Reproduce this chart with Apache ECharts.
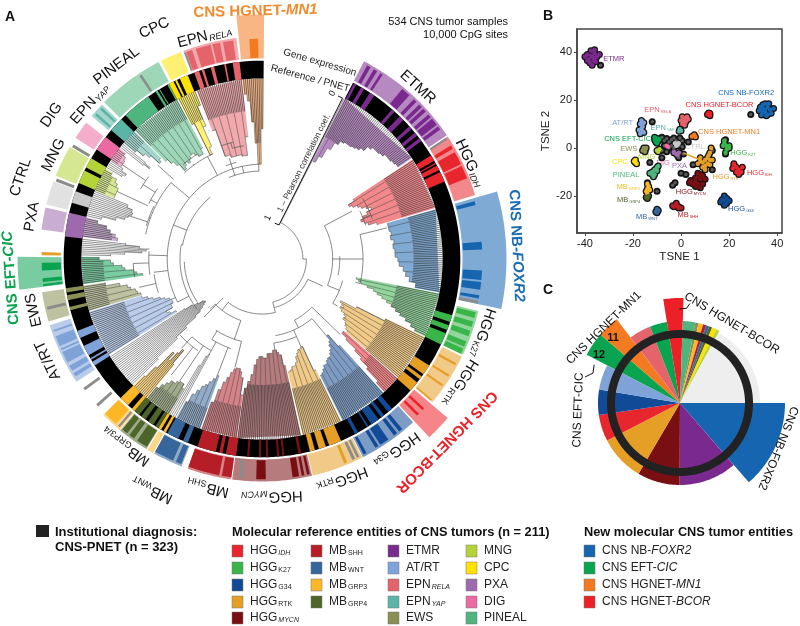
<!DOCTYPE html>
<html>
<head>
<meta charset="utf-8">
<style>html,body{margin:0;padding:0;background:#fff}#main{width:800px;height:626px}</style>
<script src="https://cdn.jsdelivr.net/npm/echarts@6/dist/echarts.min.js"></script>
</head>
<body>
<div id="main"></div>
<script>
// entity colours
var colors = {
    IDH: '#e8262d', K27: '#3ab54a', G34: '#114a96', RTK: '#e59f27', MYCN: '#7a0f13',
    SHH: '#b51e26', WNT: '#36669b', GRP3: '#fbb726', GRP4: '#4e6529',
    ETMR: '#7a2a8e', ATRT: '#7fa3d8', RELA: '#e5636a', YAP: '#5bb5a6', EWS: '#8b8f53',
    MNG: '#b4d339', CPC: '#ffe100', PXA: '#9e6aad', DIG: '#ec6aa2', PINEAL: '#4fb57e',
    FOXR2: '#1565b0', CIC: '#0aa350', MN1: '#f37a20', BCOR: '#ed2028',
    CTRL: '#c9c9c9', grey: '#8c8c8c', none: '#ffffff'
};

// ---- panel A: clusters of the tree (angle in degrees, depth = 1 - Pearson r)
var treeNames = ['ETMR', 'IDH', 'FOXR2', 'K27', 'RTK', 'BCOR', 'G34', 'RTK', 'MYCN', 'SHH', 'WNT', 'none', 'GRP4', 'GRP3', 'none', 'ATRT', 'EWS', 'CIC', 'none', 'PXA', 'none', 'MNG', 'none', 'DIG', 'none', 'YAP', 'PINEAL', 'CPC', 'RELA', 'MN1'];
var treeFrom = [27.3, 56.6, 74, 101, 115.7, 131.3, 137.8, 154, 167.5, 188, 200, 208.5, 211, 219.7, 225.7, 238, 253.3, 262, 271, 277, 283.6, 292.3, 300.2, 303.2, 308, 310, 315.3, 332.3, 338.8, 353.8];
var treeTo = [56, 73.6, 100.7, 115.4, 131, 137.3, 153.5, 167, 187.8, 199.5, 208.3, 210.7, 219.5, 225.5, 237.7, 253, 261.5, 270.7, 276.8, 283.3, 292, 300, 303, 307.8, 310, 315, 332, 338.3, 353.6, 360.5];
// leaves stop at this depth, the rest of the cluster is solid
var treeCore = [0.3, 0.24, 0.2, 0.3, 0.3, 0.25, 0.25, 0.33, 0.38, 0.22, 0.15, 1, 0.12, 0.42, 1, 0.25, 0.15, 0.15, 1, 0.2, 1, 0.07, 1, 0.05, 1, 0.1, 0.15, 0.2, 0.22, 0.45];
// tip depth of each cluster, in equal angle steps
var treeTips = [
    [0.49, 0.44, 0.36, 0.3, 0.27, 0.26, 0.26, 0.25, 0.24, 0.22, 0.18, 0.16, 0.16, 0.15, 0.13, 0.13, 0.12, 0.11],
    [0.5, 0.55, 0.53, 0.5, 0.48, 0.45, 0.42, 0.46, 0.5, 0.52, 0.5, 0.48, 0.42],
    [0.35, 0.35, 0.34, 0.35, 0.33, 0.34, 0.33, 0.33, 0.31, 0.3, 0.27, 0.25, 0.22, 0.17],
    [0.59, 0.57, 0.55, 0.5, 0.45, 0.42, 0.38, 0.34, 0.3, 0.26, 0.22, 0.17, 0.12, 0.08],
    [0.3, 0.52, 0.64, 0.62, 0.6, 0.62, 0.6, 0.57, 0.55, 0.56, 0.53, 0.52, 0.5, 0.48],
    [0.5, 0.5, 0.45, 0.35, 0.28, 0.2, 0.08],
    [0.45, 0.56, 0.52, 0.5, 0.47, 0.45, 0.43, 0.43, 0.42, 0.4, 0.4, 0.38, 0.36, 0.35],
    [0.4, 0.59, 0.58, 0.58, 0.56, 0.54, 0.5, 0.48, 0.48, 0.46, 0.45],
    [0.5, 0.58, 0.6, 0.62, 0.62, 0.6, 0.6, 0.6, 0.57, 0.57, 0.58, 0.58, 0.56, 0.52, 0.45, 0.4, 0.35],
    [0.3, 0.42, 0.46, 0.48, 0.48, 0.47, 0.44, 0.4, 0.36, 0.3, 0.2],
    [0.39, 0.36, 0.33, 0.3, 0.28, 0.24, 0.2, 0.13],
    [0.5, 0.48, 0.4],
    [0.2, 0.23, 0.23, 0.22, 0.2, 0.2, 0.17, 0.14, 0.1],
    [0.3, 0.42, 0.38, 0.3, 0.36, 0.2, 0.1],
    [0.25, 0.45, 0.55, 0.65, 0.7, 0.73, 0.75, 0.77, 0.76, 0.72, 0.68, 0.62],
    [0.56, 0.52, 0.5, 0.55, 0.55, 0.57, 0.57, 0.56, 0.53, 0.5, 0.45, 0.42, 0.38],
    [0.38, 0.36, 0.35, 0.32, 0.3, 0.25, 0.15],
    [0.42, 0.38, 0.36, 0.3, 0.28, 0.22, 0.2, 0.12],
    [0.2, 0.3, 0.42, 0.45, 0.4, 0.3],
    [0.24, 0.22, 0.18, 0.15, 0.08],
    [0.1, 0.2, 0.26, 0.28, 0.3, 0.29, 0.25],
    [0.14, 0.14, 0.14, 0.12, 0.1, 0.05],
    [0.12, 0.14, 0.1],
    [0.08, 0.08, 0.07, 0.05],
    [0.2, 0.25, 0.2],
    [0.1, 0.16, 0.2, 0.28, 0.26],
    [0.3, 0.34, 0.38, 0.44, 0.42, 0.4, 0.42, 0.4, 0.38, 0.38, 0.4, 0.42, 0.42, 0.38],
    [0.2, 0.45, 0.4, 0.25, 0.1],
    [0.3, 0.5, 0.5, 0.52, 0.52, 0.52, 0.52, 0.53, 0.53, 0.4],
    [0.1, 0.15, 0.3, 0.45, 0.6, 0.6, 0.35]
];

// branches of the tree: arcs [depth, from, to] and stems [angle, depth1, depth2]
var treeArcs = [
    [0.98, 27, 90], [0.955, 90, 166], [0.88, 166, 218], [0.915, 114, 166], [0.77, 62, 112],
    [0.72, 88, 102], [0.556, 76, 104], [0.68, 105, 122], [0.78, 134, 152], [0.72, 140, 170],
    [0.67, 156, 172], [0.81, 199, 226], [0.67, 194, 213], [0.6, 199, 212], [0.53, 209, 222],
    [0.48, 215, 227], [0.69, 232, 280], [0.7, 280, 320], [0.72, 236, 268], [0.6, 243, 358],
    [0.43, 282, 310], [0.45, 318, 335], [0.648, 338, 358], [0.563, 339, 345], [0.47, 262, 274],
    [0.5, 252, 262], [0.42, 286, 296], [0.38, 296, 304], [0.36, 262, 268], [0.28, 300, 306],
    [0.44, 59, 70], [0.5, 64, 72], [0.46, 345, 351], [0.42, 340, 346], [0.4, 320, 328]
];
var treeStems = [
    [27, 0.98, 0], [90, 0.98, 0.955], [166, 0.955, 0.88], [114, 0.915, 0.8], [62, 0.77, 0.55],
    [90, 0.77, 0.556], [76, 0.556, 0.36], [104, 0.556, 0.59], [122, 0.68, 0.64], [112, 0.77, 0.68],
    [134, 0.78, 0.5], [152, 0.78, 0.72], [140, 0.72, 0.56], [156, 0.72, 0.67], [156, 0.67, 0.59],
    [172, 0.67, 0.62], [218, 0.88, 0.81], [226, 0.81, 0.76], [199, 0.81, 0.67], [194, 0.67, 0.48],
    [212, 0.67, 0.6], [201, 0.6, 0.39], [209, 0.6, 0.5], [222, 0.53, 0.42], [214, 0.53, 0.23],
    [218, 0.48, 0.23], [225, 0.88, 0.69], [228, 0.76, 0.77], [280, 0.69, 0.7], [291, 0.7, 0.6],
    [243, 0.69, 0.6], [246, 0.6, 0.57], [358, 0.6, 0.6], [348, 0.6, 0.648], [342, 0.648, 0.563],
    [342, 0.563, 0.52], [358, 0.648, 0.6], [332, 0.6, 0.45], [310, 0.6, 0.43], [324, 0.45, 0.44],
    [335, 0.45, 0.45], [272, 0.6, 0.47], [268, 0.47, 0.36], [263, 0.6, 0.5], [257, 0.5, 0.38],
    [298, 0.43, 0.38], [290, 0.43, 0.42], [288, 0.42, 0.28], [302, 0.38, 0.28], [312, 0.43, 0.28],
    [275, 0.47, 0.45], [304, 0.28, 0.08], [295, 0.38, 0.14], [68, 0.5, 0.44], [345, 0.46, 0.42]
];

// ---- panel A: the black ring, coloured where the sample is a reference sample
var ringParts = [
    ['ETMR', 27.6, 28.4], ['ETMR', 30, 31], ['ETMR', 33, 34.5], ['ETMR', 41, 42], ['ETMR', 44, 45.5], ['ETMR', 48, 49], ['ETMR', 50.5, 51.5], ['ETMR', 52.5, 53.5],
    ['IDH', 58.5, 60.3], ['IDH', 61, 61.4], ['IDH', 61.9, 63.3], ['IDH', 64, 67],
    ['K27', 106.5, 108.5], ['K27', 109.5, 111], ['K27', 112, 115.5],
    ['RTK', 122.5, 125.5], ['RTK', 126.3, 127.3], ['RTK', 128.5, 131.5],
    ['G34', 139, 140.5], ['G34', 142, 143], ['G34', 144, 146.5], ['G34', 147.5, 148], ['G34', 151, 152],
    ['RTK', 156.5, 160.2], ['RTK', 161.2, 163.3], ['RTK', 164.5, 166],
    ['MYCN', 168.6, 169.4], ['MYCN', 173.5, 174.1], ['MYCN', 175, 175.6], ['MYCN', 178.2, 178.8], ['MYCN', 180.3, 180.9], ['MYCN', 183.7, 184.3],
    ['SHH', 187.5, 190.5], ['SHH', 191.5, 192.5], ['SHH', 193.5, 199],
    ['WNT', 202, 203.5], ['WNT', 205, 208.5],
    ['GRP3', 209, 209.8], ['GRP3', 210.6, 211.5],
    ['GRP4', 211.5, 212.5], ['GRP4', 213.3, 215], ['GRP4', 216, 217.5], ['GRP4', 218.2, 220],
    ['GRP3', 220, 221], ['GRP3', 222.5, 225.5],
    ['ATRT', 237.5, 238.8], ['ATRT', 239.5, 240], ['ATRT', 241, 244], ['ATRT', 246.5, 248.7],
    ['EWS', 255, 256], ['EWS', 258, 259.5], ['EWS', 260.3, 261.5],
    ['PXA', 276.5, 283.5], ['CTRL', 286.5, 290],
    ['MNG', 292.5, 296.5], ['MNG', 297.5, 300.5], ['DIG', 303.5, 308], ['YAP', 310.5, 314.8],
    ['PINEAL', 316.5, 325], ['PINEAL', 327.5, 328.2], ['PINEAL', 328.7, 329], ['PINEAL', 331.5, 332],
    ['CPC', 332, 333.5], ['CPC', 334, 334.6], ['CPC', 335.5, 338],
    ['RELA', 340, 341.5], ['RELA', 342.3, 343], ['RELA', 345, 346], ['RELA', 349, 349.5], ['RELA', 351.5, 353.5]
];

// ---- panel A: outer band, gene expression
var bandNames = ['ETMR', 'IDH', 'FOXR2', 'K27', 'RTK', 'BCOR', 'G34', 'RTK', 'MYCN', 'SHH', 'WNT', 'GRP3', 'GRP4', 'GRP3', 'ATRT', 'EWS', 'CIC', 'PXA', 'CTRL', 'MNG', 'DIG', 'YAP', 'PINEAL', 'CPC', 'RELA', 'MN1'];
var bandFrom = [27.3, 56.6, 74, 103.5, 116, 130.6, 137.2, 153.2, 167, 188, 201.2, 209.3, 211.3, 219.8, 236.5, 253.7, 262.8, 277.6, 284.2, 292, 303, 310, 314.8, 333, 339.3, 354];
var bandTo = [56.2, 73.3, 101.8, 115.5, 130, 136.8, 153, 166.8, 187.7, 199.5, 209, 211, 219.6, 225.5, 252.7, 261.4, 270.5, 283.4, 290.4, 300.2, 307.8, 314, 332.3, 338.6, 353.4, 360.5];
var newEntities = ['FOXR2', 'BCOR', 'CIC', 'MN1'];
var bandStripes = [
    ['ETMR', 28.5, 29.5], ['ETMR', 30.5, 31.5], ['ETMR', 32.5, 33.2], ['ETMR', 39.5, 42], ['ETMR', 43.5, 44.5], ['ETMR', 45.5, 46.5], ['ETMR', 47, 48], ['ETMR', 49, 50], ['ETMR', 50.5, 52.5], ['ETMR', 53, 54],
    ['grey', 56.6, 57.2], ['IDH', 59, 60], ['IDH', 61, 64.5], ['IDH', 65, 68.5],
    ['FOXR2', 74.8, 75.8], ['FOXR2', 85.5, 87.5], ['FOXR2', 93, 95.5], ['FOXR2', 96, 98], ['FOXR2', 99.5, 100.3], ['grey', 100.9, 101.7],
    ['K27', 104, 105.5], ['K27', 106.5, 108], ['K27', 109, 110.5], ['K27', 112, 113.5], ['K27', 114, 115.5],
    ['RTK', 118.2, 118.8], ['RTK', 121.7, 122.3], ['RTK', 124.7, 125.3], ['RTK', 129.5, 130],
    ['BCOR', 132.6, 133.3], ['BCOR', 134.6, 135.3],
    ['G34', 140.5, 141.5], ['G34', 142.2, 143.2], ['G34', 145, 147.5], ['G34', 148.1, 149], ['G34', 151.7, 152.5],
    ['grey', 153.8, 154.5], ['grey', 155, 155.8], ['RTK', 157.3, 158.1],
    ['MYCN', 167.5, 168.2], ['MYCN', 168.9, 169.6], ['MYCN', 170.3, 172], ['MYCN', 179, 181.5], ['grey', 185, 186],
    ['SHH', 188, 190.5], ['SHH', 191.2, 199.5],
    ['WNT', 201.5, 203], ['WNT', 203.8, 209],
    ['GRP4', 211.5, 214.5], ['GRP4', 215.5, 217], ['GRP4', 217.7, 219.3], ['grey', 220.2, 220.8], ['GRP3', 221.5, 225.5],
    ['grey', 228, 228.8], ['grey', 233.4, 234.2],
    ['ATRT', 237.8, 238.8], ['ATRT', 239.5, 241], ['ATRT', 242, 245], ['ATRT', 245.5, 246], ['ATRT', 246.7, 249.5], ['ATRT', 250.7, 251.2],
    ['grey', 256.7, 257.5], ['CIC', 262.9, 263.5], ['CIC', 264, 265], ['CIC', 267, 269], ['RTK', 271, 271.8],
    ['grey', 290.6, 291.4], ['grey', 300.5, 301.3], ['grey', 326.2, 326.9], ['YAP', 310.7, 311.4], ['YAP', 312.7, 313.4],
    ['grey', 339.3, 339.8], ['RELA', 339.9, 341.5], ['RELA', 342.5, 346.5], ['RELA', 347, 349], ['RELA', 349.8, 352.5],
    ['MN1', 356.7, 359]
];

// ---- panel A: labels [text, angle, radius in px, colour, size, bold]
var labelsA = [
    ['{n|CNS HGNET-}{i|MN1}', 358.5, 248, '#f08a2c', 15, true],
    ['{n|EPN}{t|RELA}', 345.5, 230, '#111', 15, false],
    ['{n|CPC}', 335, 255, '#111', 15, false],
    ['{n|PINEAL}', 323, 242, '#111', 15, false],
    ['{n|EPN}{t|YAP}', 312, 232, '#111', 15, false],
    ['{n|DIG}', 304.4, 255, '#111', 15, false],
    ['{n|MNG}', 296.5, 233, '#111', 15, false],
    ['{n|CTRL}', 288.7, 255, '#111', 15, false],
    ['{n|PXA}', 280.4, 234, '#111', 15, false],
    ['{n|CNS EFT-}{i|CIC}', 265.7, 252, '#0aa350', 15, true],
    ['{n|EWS}', 257.4, 234, '#111', 15, false],
    ['{n|AT/RT}', 244.7, 237, '#111', 15, false],
    ['{n|MB}{s|GRP3/4}', 216, 232, '#111', 15, false],
    ['{n|MB}{s|WNT}', 205.5, 256, '#111', 15, false],
    ['{n|MB}{s|SHH}', 193.3, 235, '#111', 15, false],
    ['{n|HGG}{t|MYCN}', 177.6, 238, '#111', 15, false],
    ['{n|HGG}{s|RTK}', 160, 235, '#111', 15, false],
    ['{n|HGG}{s|G34}', 144.7, 234, '#111', 15, false],
    ['{n|CNS HGNET-BCOR}', 134.7, 260, '#ed2028', 15, true],
    ['{n|HGG}{s|RTK}', 122, 234, '#111', 15, false],
    ['{n|HGG}{s|K27}', 108.5, 233, '#111', 15, false],
    ['{n|CNS NB-}{i|FOXR2}', 87, 255, '#1b6db5', 15, true],
    ['{n|HGG}{t|IDH}', 65.2, 229, '#111', 15, false],
    ['{n|ETMR}', 42.2, 232, '#111', 15, false],
    ['{n|Gene expression}', 16.4, 205, '#222', 10, false],
    ['{n|Reference / PNET}', 14.9, 187, '#222', 10, false]
];
// depth axis next to the tree
var scaleTitle = '1 \u2013 Pearson correlation coef.';
var scaleTicks = [0, 1];

// ---- panel B: TSNE coordinates per group
var tsneGroups = {
    ETMR: [[-37, 38], [-38.5, 37], [-36, 39.5], [-35, 38], [-39, 39], [-37.5, 40.5], [-35.5, 36], [-38, 35.5], [-36.5, 36.5], [-40, 38], [-36, 41], [-34, 39], [-39, 36.5], [-37, 34.5], [-37.5, 38.5], [-36, 37.5]],
    FOXR2: [[35, 16], [36, 17], [34, 15], [37, 16], [33, 17], [35, 18.5], [37.5, 14.5], [34, 18], [36, 14], [32.5, 15.5], [38.5, 16.5], [35.5, 13.5], [33.5, 13.8], [36.5, 18.5], [35, 15], [34, 16.5]],
    BCOR: [[11, 14], [12, 13.5], [11.5, 14.6], [12, 14.4]],
    RELA: [[0.5, 13], [1.5, 12.5], [2.5, 13], [0, 11.5], [1, 11], [2, 11], [3, 12], [0.5, 10], [1.5, 9.5]],
    YAP: [[-0.5, 7.8], [0, 7.2], [-0.8, 7]],
    ATRT: [[-16.5, 11.5], [-15.5, 10.5], [-17, 10], [-16, 9], [-17.5, 7.5], [-16, 7], [-17, 6], [-15.5, 6.5], [-16.5, 8]],
    MN1: [[5.5, 5.5], [4.5, 4.8], [6, 4.6]],
    CIC: [[-11, 3.5], [-10, 4], [-9.5, 3], [-10.5, 2.5], [-11, 4.5], [-9, 3.8], [-10, 2]],
    PNET: [[-8, 4.5], [-7, 3], [-6, 4], [-5, 2.5], [-4, 3.5], [-3, 4.2], [-2, 3], [-0.5, 4.2], [0.5, 3], [-7, 1], [-5, 0], [-8, -1], [-6, -1.5], [-4, 1], [-3, 0], [-1, 1], [0.5, 0.5], [1, -2.5], [-1, -4], [-0.5, -2], [3, 2.5], [-8, -4], [-13, -6], [0, -10.5], [2, -11], [-2.5, -14.5], [-3.5, -15.5], [-10, -18], [-14, -14.5], [5, -7], [13, -1], [18.5, -2.5], [13, -9], [29, 14], [-12, 11], [-33.5, 34.5], [18.5, 3.5]],
    MYCN: [[6, -14], [8, -13], [7, -15], [5, -15], [9, -15], [8, -11], [7, -12], [9, -11.5], [4, -13.5], [6, -16], [8, -16.5], [10, -13], [3.5, -14.5], [7, -10.5], [6, -12.5]],
    RTK: [[9, -6], [10, -5], [11, -6.5], [10, -7.5], [8, -5.5], [12, -5], [9, -8], [7, -6.5], [11, -4], [12, -7], [8, -4], [13, -5], [12.5, 0], [12, -2], [11.5, -3], [10, -9]],
    K27: [[18, 2], [19, 1], [20, 1], [18, 3], [19, -0.5], [18.5, -2], [20, 0], [17.5, 1]],
    IDH: [[23, -8], [24, -9], [22, -7], [25, -10], [23, -10], [21.5, -8.5], [24, -11], [25.5, -8], [22, -6.5]],
    G34: [[18, -22], [19, -21], [17, -21.5], [19, -23], [18, -20], [16.5, -22.5], [20, -22], [18, -23.8]],
    SHH: [[-3, -24.5], [-2, -24], [-1, -24.5], [-2, -23], [-1, -25], [0, -25], [-3.5, -24]],
    WNT: [[-10, -25.5], [-10.5, -26.5], [-10, -27], [-9.5, -26]],
    GRP3: [[-14, -17], [-14.5, -18], [-13.5, -16], [-14, -19], [-13, -17.5], [-14, -15]],
    GRP4: [[-14, -21], [-14.5, -20.5], [-13.5, -20]],
    PINEAL: [[-12, -10], [-11, -9], [-10, -8], [-10, -9.5], [-12, -11], [-11, -11], [-13, -10.5], [-9.5, -7.5], [-11.5, -12]],
    CPC: [[-19, -6], [-19.5, -5.5], [-18.5, -6.5], [-19, -5]],
    EWS: [[-15, -1], [-15.5, 0], [-14.5, 0], [-15, -1.5], [-16, -1]],
    MNG: [[-9.5, -1.5], [-9, -0.5], [-10, -1]],
    DIG: [[-6, 1], [-5.5, 0.5]],
    CTRL: [[-2.5, 2], [-1.5, 1.5], [-2, 1], [-1, 2]],
    PXA: [[-3, -2], [-2, -2.5], [-1, -2], [-3, -1.5], [-1.5, -3]]
};
var tsneTicks = [-40, -20, 0, 20, 40];
var rtkLink = [[1, -2], [8, -5]];
// [x, y, text, group colour]
var labelsB = [
    [-28, 37.3, '{n|ETMR}', 'ETMR'], [27.1, 22.8, '{n|CNS NB-FOXR2}', 'FOXR2'], [16, 17.8, '{n|CNS HGNET-BCOR}', 'BCOR'],
    [-9.7, 15.8, '{n|EPN}{s|RELA}', 'RELA'], [-24.3, 10.3, '{n|AT/RT}', 'ATRT'], [-7.7, 8.2, '{n|EPN}{s|YAP}', 'YAP'],
    [20, 6.7, '{n|CNS HGNET-MN1}', 'MN1'], [-22.2, 3.6, '{n|CNS EFT-CIC}', 'CIC'], [-21.8, -0.4, '{n|EWS}', 'EWS'],
    [5.8, 0.4, '{n|CTRL}', 'CTRL'], [-14.3, -3.6, '{n|MNG}', 'MNG'], [-25.4, -5.8, '{n|CPC}', 'CPC'],
    [-7.4, -6.1, '{n|DIG}', 'DIG'], [-0.7, -7.5, '{n|PXA}', 'PXA'], [25.7, -2.2, '{n|HGG}{s|K27}', 'K27'],
    [32.6, -10.5, '{n|HGG}{s|IDH}', 'IDH'], [18.5, -11.9, '{n|HGG}{s|RTK}', 'RTK'], [-22.9, -11.4, '{n|PINEAL}', 'PINEAL'],
    [-22, -16.1, '{n|MB}{s|GRP3}', 'GRP3'], [4, -18.3, '{n|HGG}{s|MYCN}', 'MYCN'], [-21.8, -21.7, '{n|MB}{s|GRP4}', 'GRP4'],
    [24.9, -25.3, '{n|HGG}{s|G34}', 'G34'], [2.8, -27.8, '{n|MB}{s|SHH}', 'SHH'], [-14.3, -28.8, '{n|MB}{s|WNT}', 'WNT']
];

// ---- panel C: sample counts of the 323 CNS-PNET cases, clockwise from 3 o'clock
var pieNames = ['FOXR2', 'ETMR', 'MYCN', 'RTK', 'IDH', 'G34', 'ATRT', 'CIC', 'MN1', 'RELA', 'CIC', 'BCOR', 'PINEAL', 'EWS', 'GRP3', 'SHH', 'WNT', 'GRP4', 'CPC', 'MNG', 'CTRL'];
var pieCounts = [44, 37, 27, 29, 17, 16, 16, 12, 11, 14, 11, 10, 8, 2, 3, 2, 2, 2, 3, 2, 55];
var pieTotal = 323;
var pieLabels = [
    ['CNS HGNET-BCOR', 33, 95, 31], ['CNS NB-FOXR2', 114.7, 108, 112],
    ['CNS EFT-CIC', 266, 102, -88], ['CNS HGNET-MN1', 314.6, 107, -44]
];
var pieCallouts = [['11', 314, 93], ['12', 300.6, 94]];
var pieLeaders = [
    [[359.6, 94], [4, 95], [5.7, 100]],
    [[294, 94], [289, 92], [285.3, 98.5]]
];

// ---- legend
var legendRefNames = [
    ['{n|HGG}{t|IDH}', '{n|HGG}{s|K27}', '{n|HGG}{s|G34}', '{n|HGG}{s|RTK}', '{n|HGG}{t|MYCN}'],
    ['{n|MB}{s|SHH}', '{n|MB}{s|WNT}', '{n|MB}{s|GRP3}', '{n|MB}{s|GRP4}'],
    ['{n|ETMR}', '{n|AT/RT}', '{n|EPN}{t|RELA}', '{n|EPN}{t|YAP}', '{n|EWS}'],
    ['{n|MNG}', '{n|CPC}', '{n|PXA}', '{n|DIG}', '{n|PINEAL}'],
    ['{n|CNS NB-}{i|FOXR2}', '{n|CNS EFT-}{i|CIC}', '{n|CNS HGNET-}{i|MN1}', '{n|CNS HGNET-}{i|BCOR}']
];
var legendRefKeys = [
    ['IDH', 'K27', 'G34', 'RTK', 'MYCN'],
    ['SHH', 'WNT', 'GRP3', 'GRP4'],
    ['ETMR', 'ATRT', 'RELA', 'YAP', 'EWS'],
    ['MNG', 'CPC', 'PXA', 'DIG', 'PINEAL'],
    ['FOXR2', 'CIC', 'MN1', 'BCOR']
];

// ---- helpers
var FONT = '"Liberation Sans", Arial, sans-serif';
// radial levels of panel A in depth units
var ringIn = -0.005, ringOut = -0.13, bandIn = -0.145, bandOut = -0.3, bandNew = -0.455, stripeIn = -0.15, stripeOut = -0.285;

function pxToDepth(r) {
    return (180 - r) / 142;
}
function richFor(size, bold, color) {
    var w = bold ? 'bold' : 'normal';
    return {
        n: {fontFamily: FONT, fontSize: size, fontWeight: w, fill: color, color: color},
        i: {fontFamily: FONT, fontSize: size, fontWeight: w, fontStyle: 'italic', fill: color, color: color},
        s: {fontFamily: FONT, fontSize: Math.round(size * 0.58), fill: color, color: color, verticalAlign: 'bottom', padding: [Math.round(size * 0.45), 0, 0, 1]},
        t: {fontFamily: FONT, fontSize: Math.round(size * 0.58), fontStyle: 'italic', fill: color, color: color, verticalAlign: 'bottom', padding: [Math.round(size * 0.45), 0, 0, 1]}
    };
}
// sector as a polygon, every corner goes through the axis scales
function sectorPoints(api, r0, r1, a0, a1) {
    var pts = [], n = Math.max(1, Math.ceil(Math.abs(a1 - a0)));
    for (var i = 0; i <= n; i++) {
        pts.push(api.coord([r1, a0 + (a1 - a0) * i / n]).slice(0, 2));
    }
    for (var j = n; j >= 0; j--) {
        pts.push(api.coord([r0, a0 + (a1 - a0) * j / n]).slice(0, 2));
    }
    return pts;
}
function sector(api, r0, r1, a0, a1, color, opacity) {
    return {
        type: 'polygon',
        shape: {points: sectorPoints(api, r0, r1, a0, a1)},
        style: {fill: color, opacity: opacity === undefined ? 1 : opacity, lineWidth: 0}
    };
}
function arcLine(api, d, a0, a1, color, width) {
    var pts = [], n = Math.max(1, Math.ceil(Math.abs(a1 - a0) / 2));
    for (var i = 0; i <= n; i++) {
        pts.push(api.coord([d, a0 + (a1 - a0) * i / n]).slice(0, 2));
    }
    return {type: 'polyline', shape: {points: pts}, style: {stroke: color, lineWidth: width, fill: null}};
}
function polarSeries(index, rows, build) {
    return {
        type: 'custom',
        coordinateSystem: 'polar',
        polarIndex: index,
        silent: true,
        animation: false,
        clip: false,
        data: rows.map(function (row, i) { return [0, 0, i]; }),
        renderItem: function (params, api) {
            return build(rows[params.dataIndex], api, params.dataIndex);
        }
    };
}

// tree cluster: tinted steps with the leaves on top
function drawCluster(idx, api) {
    var name = treeNames[idx], a0 = treeFrom[idx], a1 = treeTo[idx], tips = treeTips[idx];
    var step = (a1 - a0) / tips.length;
    var pts = [], kids = [];
    for (var i = 0; i < tips.length; i++) {
        pts.push(api.coord([tips[i], a0 + i * step]).slice(0, 2));
        pts.push(api.coord([tips[i], a0 + (i + 1) * step]).slice(0, 2));
    }
    pts.push(api.coord([ringIn, a1]).slice(0, 2));
    pts.push(api.coord([ringIn, a0]).slice(0, 2));
    if (name !== 'none') {
        kids.push({type: 'polygon', shape: {points: pts}, style: {fill: colors[name], opacity: 0.55, lineWidth: 0}});
    }
    var outline = pts.slice(0, pts.length - 2);
    kids.push({type: 'polyline', shape: {points: outline}, style: {stroke: '#444', lineWidth: 0.5, fill: null}});
    // branch ends inside the solid tip
    for (var s = 1; s < tips.length; s += 2) {
        var q0 = api.coord([tips[s], a0 + s * step]), q1 = api.coord([Math.min(tips[s], treeCore[idx]), a0 + s * step]);
        kids.push({type: 'line', shape: {x1: q0[0], y1: q0[1], x2: q1[0], y2: q1[1]}, style: {stroke: '#444', lineWidth: 0.5}});
    }
    var pitch = 0.62;
    for (var a = a0 + pitch / 2; a < a1; a += pitch) {
        var t = tips[Math.min(tips.length - 1, Math.floor((a - a0) / step))];
        var end = Math.min(t, treeCore[idx]);
        var p0 = api.coord([ringIn, a]), p1 = api.coord([end, a]);
        kids.push({
            type: 'line',
            shape: {x1: p0[0], y1: p0[1], x2: p1[0], y2: p1[1]},
            style: {stroke: name === 'none' ? '#555' : '#333', lineWidth: 0.7, opacity: 0.9}
        });
    }
    return {type: 'group', children: kids};
}

var tsneKeys = Object.keys(tsneGroups);
var tsneAll = [];
tsneKeys.forEach(function (k) {
    tsneGroups[k].forEach(function (p) { tsneAll.push(p); });
});

var series = [];

// panel A layers
series.push(polarSeries(0, treeNames, function (row, api, i) { return drawCluster(i, api); }));
series.push(polarSeries(0, treeArcs, function (row, api) { return arcLine(api, row[0], row[1], row[2], '#555', 0.7); }));
series.push(polarSeries(0, treeStems, function (row, api) {
    var p0 = api.coord([row[1], row[0]]), p1 = api.coord([row[2], row[0]]);
    return {type: 'line', shape: {x1: p0[0], y1: p0[1], x2: p1[0], y2: p1[1]}, style: {stroke: '#555', lineWidth: 0.7}};
}));
series.push(polarSeries(0, [[27.3, 360.5]], function (row, api) { return sector(api, ringIn, ringOut, row[0], row[1], '#000'); }));
series.push(polarSeries(0, ringParts, function (row, api) { return sector(api, ringIn, ringOut, row[1], row[2], colors[row[0]]); }));
series.push(polarSeries(0, bandNames, function (row, api, i) {
    var outer = newEntities.indexOf(row) >= 0 ? bandNew : bandOut;
    return sector(api, bandIn, outer, bandFrom[i], bandTo[i], colors[row], 0.55);
}));
series.push(polarSeries(0, bandStripes, function (row, api) {
    return sector(api, stripeIn, stripeOut, row[1], row[2], colors[row[0]]);
}));
series.push(polarSeries(0, labelsA, function (row, api) {
    var p = api.coord([pxToDepth(row[2]), row[1]]);
    return {
        type: 'text', x: p[0], y: p[1], rotation: -row[1] * Math.PI / 180,
        style: {text: row[0], rich: richFor(row[4], row[5], row[3]), align: 'center', verticalAlign: 'middle'}
    };
}));
// depth axis
series.push(polarSeries(0, [[26.6]], function (row, api) {
    var a = row[0], p0 = api.coord([scaleTicks[0], a]), p1 = api.coord([scaleTicks[1], a]);
    var t = api.coord([0.53, 23.6]), l0 = api.coord([0, 23]), l1 = api.coord([0.975, 8]);
    var tick0 = api.coord([scaleTicks[0], a - 1.6]), tick1 = api.coord([scaleTicks[1], a - 7]);
    var rot = (90 - a) * Math.PI / 180;
    return {type: 'group', children: [
        {type: 'polyline', shape: {points: [tick0.slice(0, 2), p0.slice(0, 2), p1.slice(0, 2), tick1.slice(0, 2)]}, style: {stroke: '#111', lineWidth: 1, fill: null}},
        {type: 'text', x: t[0], y: t[1], rotation: rot, style: {text: scaleTitle, font: '8.5px ' + FONT, fill: '#333', align: 'center', verticalAlign: 'middle'}},
        {type: 'text', x: l0[0], y: l0[1], rotation: rot, style: {text: '0', font: '9px ' + FONT, fill: '#111', align: 'center', verticalAlign: 'middle'}},
        {type: 'text', x: l1[0], y: l1[1], rotation: rot, style: {text: '1', font: '9px ' + FONT, fill: '#111', align: 'center', verticalAlign: 'middle'}}
    ]};
}));

// panel B layers
series.push({
    type: 'scatter', xAxisIndex: 0, yAxisIndex: 0, silent: true, animation: false, symbolSize: 7,
    itemStyle: {color: '#151515', opacity: 1}, data: tsneAll
});
tsneKeys.forEach(function (k) {
    series.push({
        type: 'scatter', xAxisIndex: 0, yAxisIndex: 0, silent: true, animation: false, symbolSize: k === 'PNET' ? 3.5 : 4.5,
        itemStyle: {color: k === 'PNET' ? '#5a5a5a' : colors[k], opacity: 1}, data: tsneGroups[k]
    });
});
series.push({
    type: 'line', xAxisIndex: 0, yAxisIndex: 0, silent: true, animation: false, showSymbol: false,
    lineStyle: {color: colors.RTK, width: 1.5}, data: rtkLink
});
series.push({
    type: 'custom', coordinateSystem: 'cartesian2d', xAxisIndex: 0, yAxisIndex: 0, silent: true, animation: false, clip: false,
    data: labelsB.map(function (l) { return [l[0], l[1]]; }),
    renderItem: function (params, api) {
        var l = labelsB[params.dataIndex], p = api.coord([l[0], l[1]]);
        return {type: 'text', x: p[0], y: p[1], style: {text: l[2], rich: richFor(7.5, false, colors[l[3]]), align: 'center', verticalAlign: 'middle'}};
    }
});

// panel C layers
var pieFrom = [], pieTo = [], running = 0;
pieCounts.forEach(function (c) {
    pieFrom.push(90 + running * 360 / pieTotal);
    running += c;
    pieTo.push(90 + running * 360 / pieTotal);
});
series.push(polarSeries(1, pieNames, function (row, api, i) {
    var big = newEntities.indexOf(row) >= 0 && !(row === 'CIC' && i > 8);
    var outer = big ? 105 : (row === 'CTRL' ? 80 : 82);
    return sector(api, 0, outer, pieFrom[i], pieTo[i], row === 'CTRL' ? '#eeeeee' : colors[row]);
}));
series.push(polarSeries(1, [[65, 73]], function (row, api) { return sector(api, row[0], row[1], 0, 360, '#222222'); }));
series.push(polarSeries(1, pieLabels, function (row, api) {
    var p = api.coord([row[2], row[1]]);
    return {type: 'text', x: p[0], y: p[1], rotation: -row[3] * Math.PI / 180,
        style: {text: row[0], font: '12px ' + FONT, fill: '#111', align: 'center', verticalAlign: 'middle'}};
}));
series.push(polarSeries(1, pieCallouts, function (row, api) {
    var p = api.coord([row[2], row[1]]);
    return {type: 'text', x: p[0], y: p[1], style: {text: row[0], font: 'bold 11px ' + FONT, fill: '#111', align: 'center', verticalAlign: 'middle'}};
}));
series.push(polarSeries(1, pieLeaders, function (row, api) {
    return {type: 'polyline', shape: {points: row.map(function (p) { return api.coord([p[1], p[0]]).slice(0, 2); })}, style: {stroke: '#111', lineWidth: 1, fill: null, smooth: 0.5}};
}));

// page texts and legend
var graphic = [];
function addText(x, y, text, font, align) {
    graphic.push({type: 'text', x: x, y: y, silent: true, style: {text: text, font: font + ' ' + FONT, fill: '#111', align: align || 'left', verticalAlign: 'middle'}});
}
addText(5, 17, 'A', 'bold 14px');
addText(543, 16, 'B', 'bold 14px');
addText(543, 290, 'C', 'bold 14px');
addText(508, 22, '534 CNS tumor samples', '11px', 'right');
addText(508, 35, '10,000 CpG sites', '11px', 'right');
addText(55, 532, 'Institutional diagnosis:', 'bold 13px');
addText(55, 547, 'CNS-PNET (n = 323)', 'bold 13px');
addText(232, 532, 'Molecular reference entities of CNS tumors (n = 211)', 'bold 12.8px');
addText(584, 532, 'New molecular CNS tumor entities', 'bold 12.8px');
graphic.push({type: 'rect', silent: true, shape: {x: 36, y: 525, width: 13, height: 12}, style: {fill: '#222'}});

var legendColX = [232, 311, 388, 466, 584];
var legendRowY = [551, 568, 585, 602, 618];
legendRefNames.forEach(function (col, c) {
    col.forEach(function (label, r) {
        graphic.push({type: 'rect', silent: true, shape: {x: legendColX[c], y: legendRowY[r] - 6, width: 11, height: 12}, style: {fill: colors[legendRefKeys[c][r]], stroke: '#777', lineWidth: 0.5}});
        graphic.push({type: 'text', silent: true, x: legendColX[c] + 18, y: legendRowY[r], style: {text: label, rich: richFor(12, false, '#222'), align: 'left', verticalAlign: 'middle'}});
    });
});

var axisText = {fontFamily: FONT, fontSize: 11, color: '#222'};
var chart = echarts.init(document.getElementById('main'), null, {renderer: 'canvas'});
chart.setOption({
    animation: false,
    backgroundColor: '#fff',
    polar: [
        {center: [262, 259], radius: [0, 248]},
        {center: [680, 403], radius: [0, 105]}
    ],
    angleAxis: [
        {polarIndex: 0, min: 0, max: 360, startAngle: 90, show: false},
        {polarIndex: 1, min: 0, max: 360, startAngle: 90, show: false}
    ],
    radiusAxis: [
        {polarIndex: 0, inverse: true, min: -0.48, max: 1.268, show: false},
        {polarIndex: 1, min: 0, max: 105, show: false}
    ],
    grid: {left: 577, top: 29, width: 205, height: 204, show: true, borderColor: '#444', borderWidth: 1.5},
    xAxis: {
        type: 'value', min: -43.3, max: 42, name: 'TSNE 1', nameLocation: 'middle', nameGap: 18,
        nameTextStyle: {fontFamily: FONT, fontSize: 11.5, color: '#222'},
        splitLine: {show: false}, axisLine: {onZero: false, lineStyle: {color: '#444', width: 1.5}},
        axisTick: {customValues: tsneTicks, length: 3, lineStyle: {color: '#444'}},
        axisLabel: Object.assign({customValues: tsneTicks, margin: 5}, axisText)
    },
    yAxis: {
        type: 'value', min: -35.4, max: 49.6, name: 'TSNE 2', nameLocation: 'middle', nameGap: 18,
        nameTextStyle: {fontFamily: FONT, fontSize: 11.5, color: '#222'},
        splitLine: {show: false}, axisLine: {onZero: false, lineStyle: {color: '#444', width: 1.5}},
        axisTick: {customValues: tsneTicks, length: 3, lineStyle: {color: '#444'}},
        axisLabel: Object.assign({customValues: tsneTicks, margin: 5}, axisText)
    },
    graphic: graphic,
    series: series
});
</script>
</body>
</html>
